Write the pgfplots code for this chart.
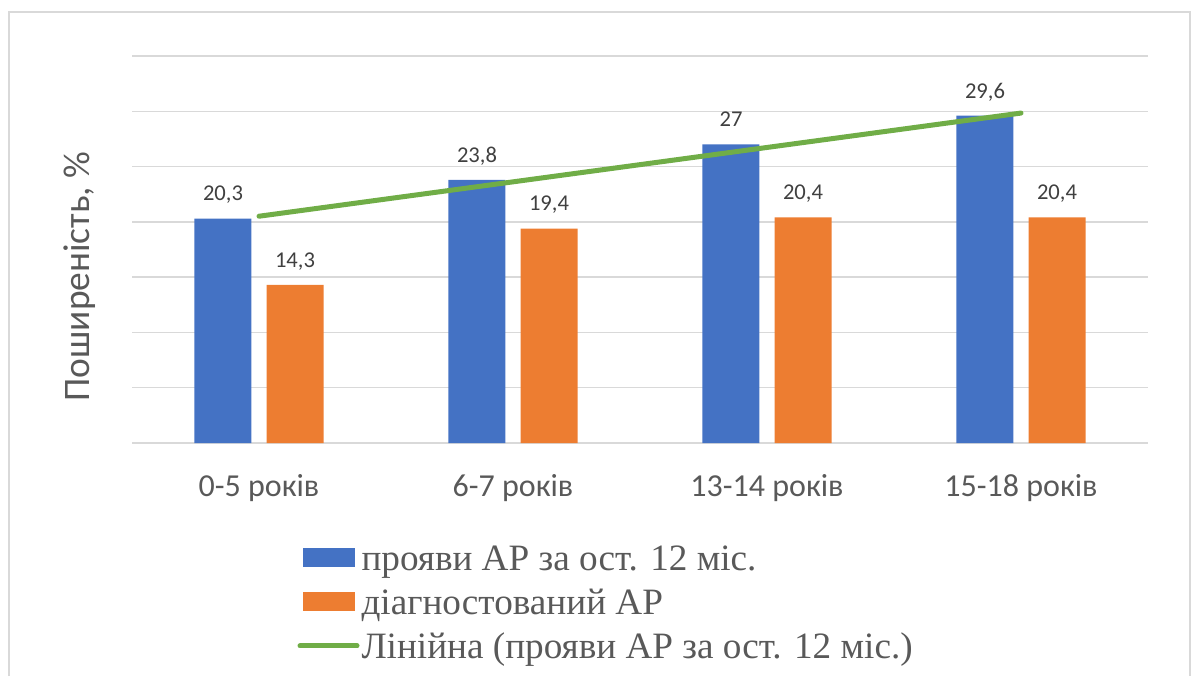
\documentclass[border=0pt]{standalone}
\usepackage{pgfplots}
\pgfplotsset{compat=1.18}
\usepackage{fontspec}
\setmainfont{Carlito}
\newfontfamily\legendfont{Liberation Serif}

\definecolor{barblue}{HTML}{4472C4}
\definecolor{barorange}{HTML}{ED7D31}
\definecolor{trendgreen}{HTML}{70AD47}
\definecolor{gridgray}{HTML}{D9D9D9}
\definecolor{labelgray}{HTML}{595959}
\definecolor{valuegray}{HTML}{404040}

\begin{document}
\begin{tikzpicture}
\useasboundingbox (0pt,0pt) rectangle (596pt,-338pt);
% chart frame
\draw[gridgray, line width=0.7pt] (4.5pt,-338pt) -- (4.5pt,-6pt) -- (595pt,-6pt) -- (595pt,-338pt);
\begin{axis}[
  at={(66pt,-221.5pt)}, anchor=south west,
  scale only axis, width=508pt, height=193.5pt,
  xmin=-0.5, xmax=3.5, ymin=0, ymax=35,
  xtick={0,1,2,3},
  xticklabels={0-5 років, 6-7 років, 13-14 років, 15-18 років},
  ytick={0,5,...,35}, yticklabels={},
  ymajorgrids, grid style={gridgray, line width=0.7pt},
  axis line style={draw=none},
  major tick length=0pt,
  xticklabel style={font=\fontsize{16}{19}\selectfont, text=labelgray, anchor=base, yshift=-26.5pt},
  ylabel={Поширеність, \%},
  ylabel style={at={(axis description cs:-0.0512,0.4300)}, anchor=center,
    font=\fontsize{18.7}{21}\selectfont, text=labelgray},
  legend cell align=left,
  legend style={at={(axis description cs:0.1625,-0.2558)}, anchor=north west,
    draw=none, fill=none, inner sep=0pt, row sep=3pt, column sep=1pt,
    font=\legendfont\fontsize{18.6}{22}\selectfont, text=labelgray,
    nodes={inner sep=0pt, text height=14pt, text depth=5pt}},
]
\addplot[ybar, bar width=0.224, bar shift=-0.142, fill=barblue, draw=none,
  nodes near coords={\pgfmathprintnumber[assume math mode=true, use comma, fixed, precision=1]{\pgfplotspointmeta}},
  nodes near coords style={font=\fontsize{11.3}{13}\selectfont, text=valuegray, anchor=base, inner sep=0pt, yshift=8.8pt, xshift=-18pt},
  legend image code/.code={\fill[barblue] (0pt,-3pt) rectangle (26pt,6.5pt);}]
  coordinates {(0,20.3) (1,23.8) (2,27) (3,29.6)};
\addlegendentry{прояви АР за ост. 12 міс.}
\addplot[ybar, bar width=0.224, bar shift=0.142, fill=barorange, draw=none,
  nodes near coords={\pgfmathprintnumber[assume math mode=true, use comma, fixed, precision=1]{\pgfplotspointmeta}},
  nodes near coords style={font=\fontsize{11.3}{13}\selectfont, text=valuegray, anchor=base, inner sep=0pt, yshift=8.8pt, xshift=18pt},
  legend image code/.code={\fill[barorange] (0pt,-3pt) rectangle (26pt,6.5pt);}]
  coordinates {(0,14.3) (1,19.4) (2,20.4) (3,20.4)};
\addlegendentry{діагностований АР}
% linear trend of the first series
\addplot[trendgreen, line width=2.5pt, line cap=round, mark=none,
  legend image code/.code={\draw[trendgreen, line width=2.5pt, line cap=round] (-1.5pt,1.75pt) -- (27pt,1.75pt);}]
  coordinates {(0,20.51) (3,29.84)};
\addlegendentry{Лінійна (прояви АР за ост. 12 міс.)}
\end{axis}
\end{tikzpicture}
\end{document}
